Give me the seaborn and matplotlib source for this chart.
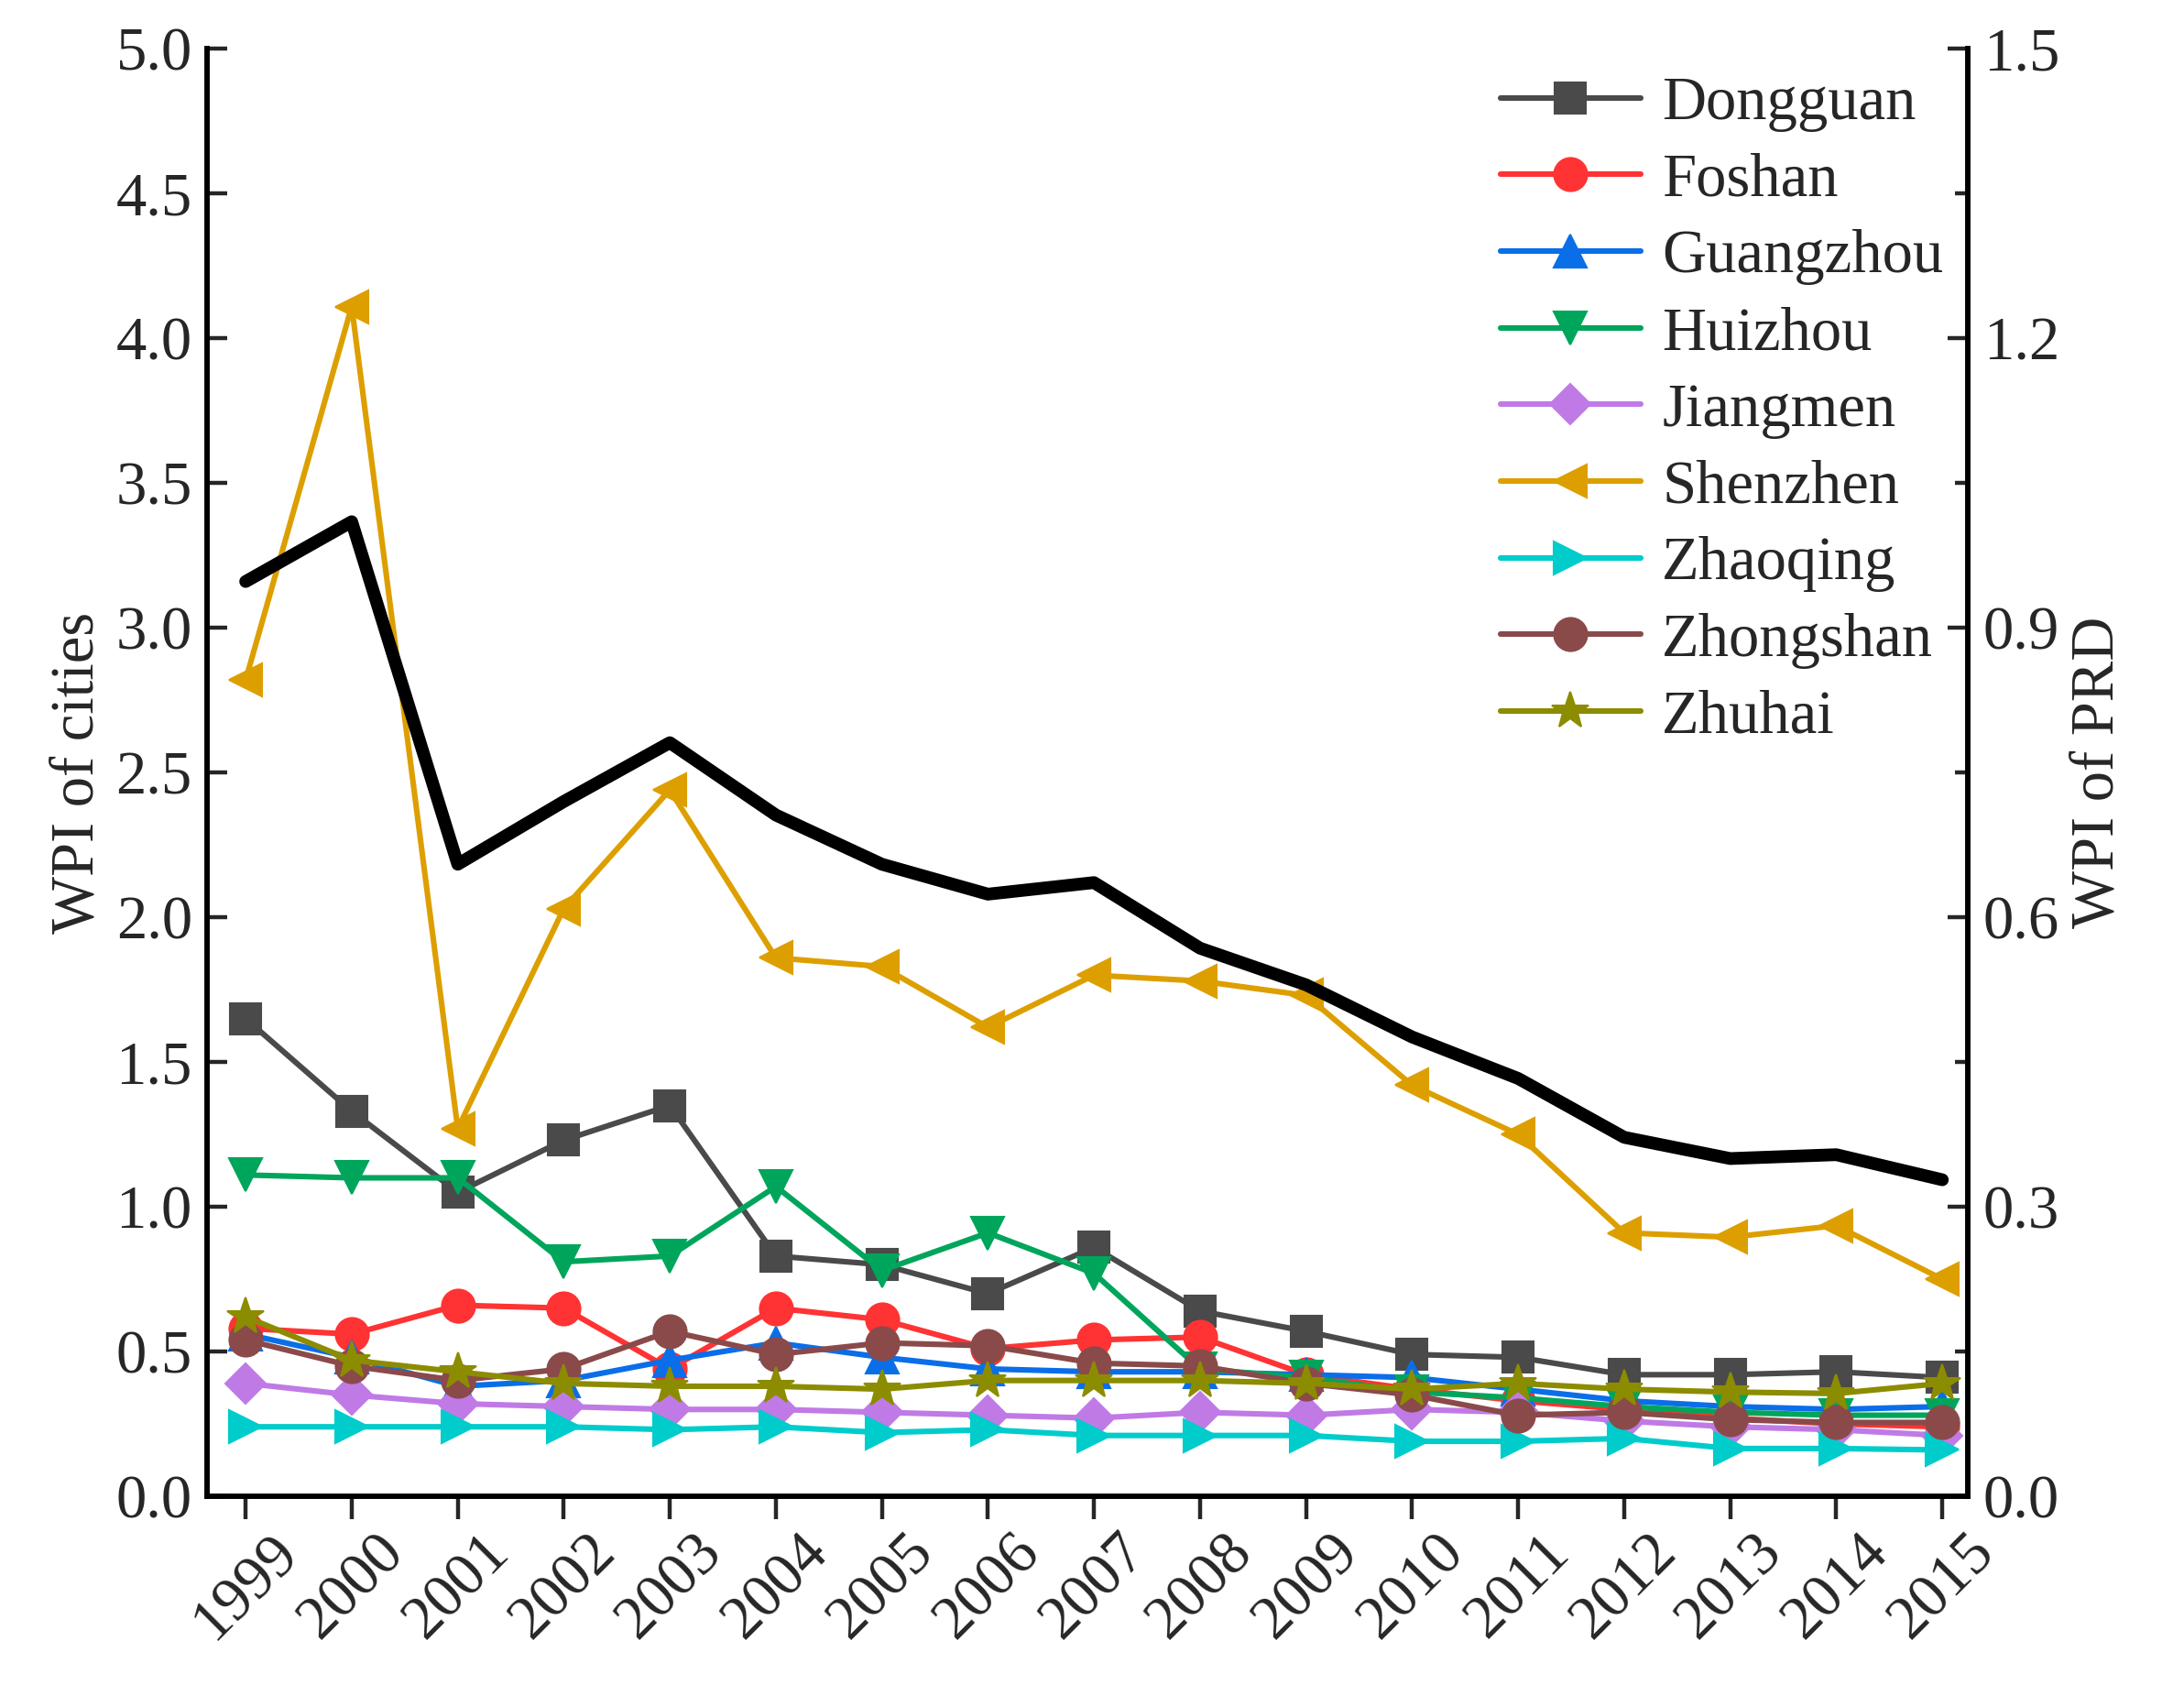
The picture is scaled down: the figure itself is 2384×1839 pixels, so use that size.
import numpy as np
import pandas as pd
import matplotlib
matplotlib.use("Agg")
import matplotlib.pyplot as plt
import seaborn as sns
from matplotlib.ticker import MultipleLocator

years = list(range(1999, 2016))
year_labels = [str(y) for y in years]

dongguan = [1.65, 1.33, 1.05, 1.23, 1.35, 0.83, 0.80, 0.70, 0.86, 0.64, 0.57, 0.49, 0.48, 0.42, 0.42, 0.43, 0.41]
foshan = [0.58, 0.56, 0.66, 0.65, 0.44, 0.65, 0.61, 0.51, 0.54, 0.55, 0.42, 0.37, 0.33, 0.30, 0.27, 0.25, 0.24]
guangzhou = [0.56, 0.48, 0.38, 0.40, 0.47, 0.53, 0.48, 0.44, 0.43, 0.43, 0.42, 0.41, 0.37, 0.33, 0.31, 0.30, 0.31]
huizhou = [1.11, 1.10, 1.10, 0.81, 0.83, 1.07, 0.78, 0.91, 0.77, 0.44, 0.41, 0.36, 0.34, 0.31, 0.29, 0.28, 0.28]
jiangmen = [0.39, 0.35, 0.32, 0.31, 0.30, 0.30, 0.29, 0.28, 0.27, 0.29, 0.28, 0.30, 0.29, 0.26, 0.24, 0.23, 0.21]
shenzhen = [2.82, 4.11, 1.27, 2.03, 2.44, 1.86, 1.83, 1.62, 1.80, 1.78, 1.73, 1.42, 1.25, 0.91, 0.895, 0.935, 0.75]
zhaoqing = [0.24, 0.24, 0.24, 0.24, 0.23, 0.24, 0.22, 0.23, 0.21, 0.21, 0.21, 0.19, 0.19, 0.20, 0.165, 0.165, 0.16]
zhongshan = [0.54, 0.45, 0.40, 0.44, 0.57, 0.49, 0.53, 0.52, 0.46, 0.45, 0.39, 0.35, 0.28, 0.29, 0.265, 0.255, 0.255]
zhuhai = [0.62, 0.47, 0.43, 0.39, 0.38, 0.38, 0.37, 0.40, 0.40, 0.40, 0.39, 0.37, 0.39, 0.37, 0.36, 0.355, 0.39]
prd = [0.948, 1.01, 0.655, 0.72, 0.781, 0.706, 0.655, 0.624, 0.636, 0.568, 0.53, 0.476, 0.433, 0.372, 0.35, 0.354, 0.328]

cities = ["Dongguan", "Foshan", "Guangzhou", "Huizhou", "Jiangmen",
          "Shenzhen", "Zhaoqing", "Zhongshan", "Zhuhai"]
city_values = [dongguan, foshan, guangzhou, huizhou, jiangmen,
               shenzhen, zhaoqing, zhongshan, zhuhai]
colors = ["#4a4a4a", "#ff3333", "#0a6ee8", "#00a55c", "#c07ae6",
          "#dd9f00", "#00cccc", "#8a4a4a", "#8c8c00"]
markers = ["s", "o", "^", "v", "D", "<", ">", "o", "*"]
msizes = [12, 13, 13, 13, 11, 13, 13, 13, 15]

sns.set_theme(style="white")
plt.rcParams["font.family"] = ["Liberation Serif", "DejaVu Serif"]

fs = 24

fig = plt.figure(figsize=(11.92, 9.195), dpi=200)
ax = fig.add_axes([0.095, 0.112, 0.806, 0.859])

for name, vals, c, m, ms in zip(cities, city_values, colors, markers, msizes):
    sns.lineplot(x=years, y=vals, ax=ax, color=c, marker=m, markersize=ms,
                 markeredgecolor=c, linewidth=2.2, label=name)

ax2 = ax.twinx()
sns.lineplot(x=years, y=prd, ax=ax2, color="black", linewidth=5, legend=False)

ax.set_xlim(1998.64, 2015.24)
ax.set_ylim(0, 5.0)
ax2.set_ylim(0, 1.5)

ax.set_xticks(years)
ax.set_xticklabels(year_labels, rotation=45, fontsize=fs)
ax.yaxis.set_major_locator(MultipleLocator(0.5))
ax.yaxis.set_major_formatter(matplotlib.ticker.FormatStrFormatter("%.1f"))
ax2.yaxis.set_major_locator(MultipleLocator(0.3))
ax2.yaxis.set_minor_locator(MultipleLocator(0.15))
ax2.yaxis.set_major_formatter(matplotlib.ticker.FormatStrFormatter("%.1f"))

ax.tick_params(axis="y", direction="in", length=8, width=1.6, labelsize=fs, left=True, pad=6)
ax.tick_params(axis="x", direction="out", length=9, width=1.6, labelsize=fs, bottom=True, pad=2)
ax2.tick_params(axis="y", which="major", direction="in", length=8, width=1.6, labelsize=fs, right=True, pad=6)
ax2.tick_params(axis="y", which="minor", direction="in", length=5, width=1.6, right=True)

for a in (ax, ax2):
    a.spines["top"].set_visible(False)
    for s in ("left", "right", "bottom"):
        a.spines[s].set_linewidth(2)
        a.spines[s].set_color("black")

ax.set_xlabel("")
ax.set_ylabel("WPI of cities", fontsize=fs, labelpad=4)
ax2.set_ylabel("WPI of PRD", fontsize=fs, labelpad=4)

leg = ax.legend(loc="upper right", frameon=False, fontsize=fs, handlelength=2.3,
                labelspacing=0.34, handletextpad=0.35, borderaxespad=0.0,
                bbox_to_anchor=(1.0, 0.998))

fig.savefig("out.png", dpi=200)
